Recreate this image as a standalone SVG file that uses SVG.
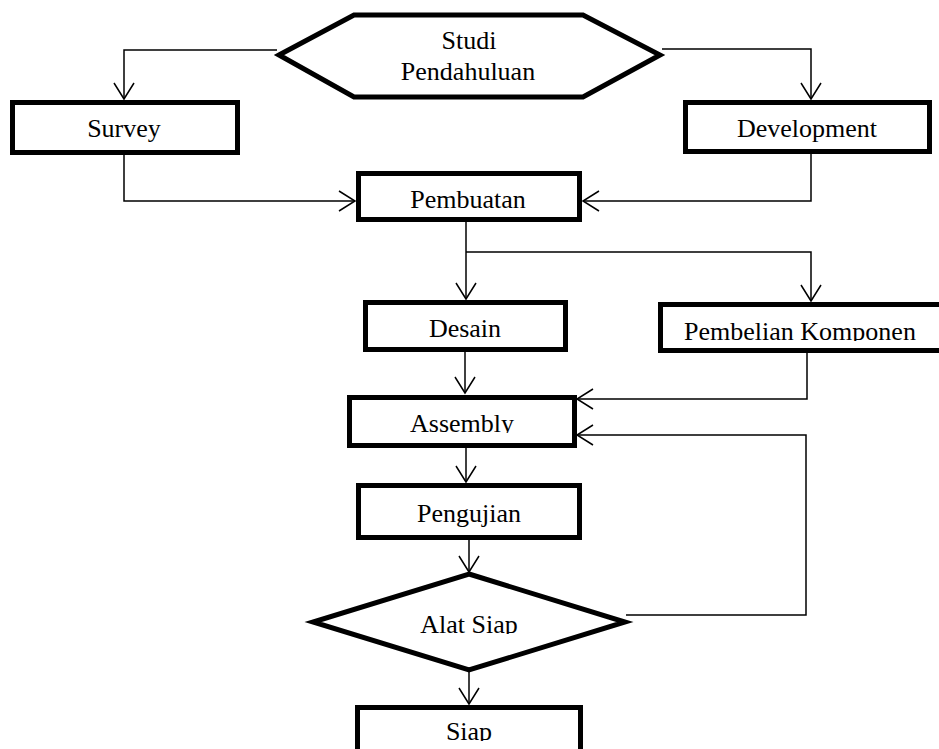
<svg xmlns="http://www.w3.org/2000/svg" width="939" height="749" viewBox="0 0 939 749">
<style>
.node{fill:#fff;stroke:#000;stroke-width:5}
.lbl{font-family:"Liberation Serif","Times New Roman",serif;font-size:26px;fill:#000;text-anchor:middle}
.conn{fill:none;stroke:#000;stroke-width:1.5}
</style>
<defs>
<marker id="arr" markerUnits="userSpaceOnUse" markerWidth="20" markerHeight="24" viewBox="-17 -12 19 24" refX="0" refY="0" orient="auto" overflow="visible">
<path d="M-16,-10 L0,0 L-16,10" fill="none" stroke="#000" stroke-width="1.5"/>
</marker>
<clipPath id="cPK"><rect x="600" y="300" width="339" height="41"/></clipPath>
<clipPath id="cAS"><rect x="340" y="390" width="250" height="43"/></clipPath>
<clipPath id="cAL"><rect x="300" y="570" width="340" height="64"/></clipPath>
<clipPath id="cSI"><rect x="340" y="700" width="250" height="41"/></clipPath>
</defs>
<rect width="939" height="749" fill="#fff"/>
<g id="connectors">
<path class="conn" d="M277,50 H124 V99" marker-end="url(#arr)"/>
<path class="conn" d="M662,49 H811 V99" marker-end="url(#arr)"/>
<path class="conn" d="M124,154 V201 H355" marker-end="url(#arr)"/>
<path class="conn" d="M811,154 V201 H583" marker-end="url(#arr)"/>
<path class="conn" d="M466,222 V299" marker-end="url(#arr)"/>
<path class="conn" d="M466,252 H811 V301" marker-end="url(#arr)"/>
<path class="conn" d="M465,352 V393" marker-end="url(#arr)"/>
<path class="conn" d="M807,353 V399 H577" marker-end="url(#arr)"/>
<path class="conn" d="M626,615 H806 V435 H577" marker-end="url(#arr)"/>
<path class="conn" d="M466,448 V482" marker-end="url(#arr)"/>
<path class="conn" d="M469,540 V572" marker-end="url(#arr)"/>
<path class="conn" d="M469,671 V704" marker-end="url(#arr)"/>
</g>
<g id="studi">
<polygon class="node" points="279,55 354,15 583,15 660,55 583,97 354,97"/>
<text class="lbl" x="469" y="49">Studi</text>
<text class="lbl" x="468" y="80">Pendahuluan</text>
</g>
<g id="survey">
<rect class="node" x="12.5" y="102.5" width="225" height="50"/>
<text class="lbl" x="124" y="137">Survey</text>
</g>
<g id="development">
<rect class="node" x="685.5" y="102.5" width="244" height="49"/>
<text class="lbl" x="807" y="137">Development</text>
</g>
<g id="pembuatan">
<rect class="node" x="358.5" y="173.5" width="221" height="46"/>
<text class="lbl" x="468" y="208">Pembuatan</text>
</g>
<g id="desain">
<rect class="node" x="365.5" y="302.5" width="200" height="47"/>
<text class="lbl" x="465" y="337">Desain</text>
</g>
<g id="pembelian">
<rect class="node" x="660.5" y="304.5" width="300" height="46"/>
<text class="lbl" x="800" y="340" clip-path="url(#cPK)">Pembelian Komponen</text>
</g>
<g id="assembly">
<rect class="node" x="349.5" y="397.5" width="225" height="48"/>
<text class="lbl" x="462" y="432" clip-path="url(#cAS)">Assembly</text>
</g>
<g id="pengujian">
<rect class="node" x="358.5" y="485.5" width="221" height="52"/>
<text class="lbl" x="469" y="522">Pengujian</text>
</g>
<g id="alatsiap">
<polygon class="node" points="469,574 625,622 469,670 313,622"/>
<text class="lbl" x="469" y="633" clip-path="url(#cAL)">Alat Siap</text>
</g>
<g id="siap">
<rect class="node" x="357.5" y="707.5" width="223" height="60"/>
<text class="lbl" x="469" y="740" clip-path="url(#cSI)">Siap</text>
</g>
</svg>
